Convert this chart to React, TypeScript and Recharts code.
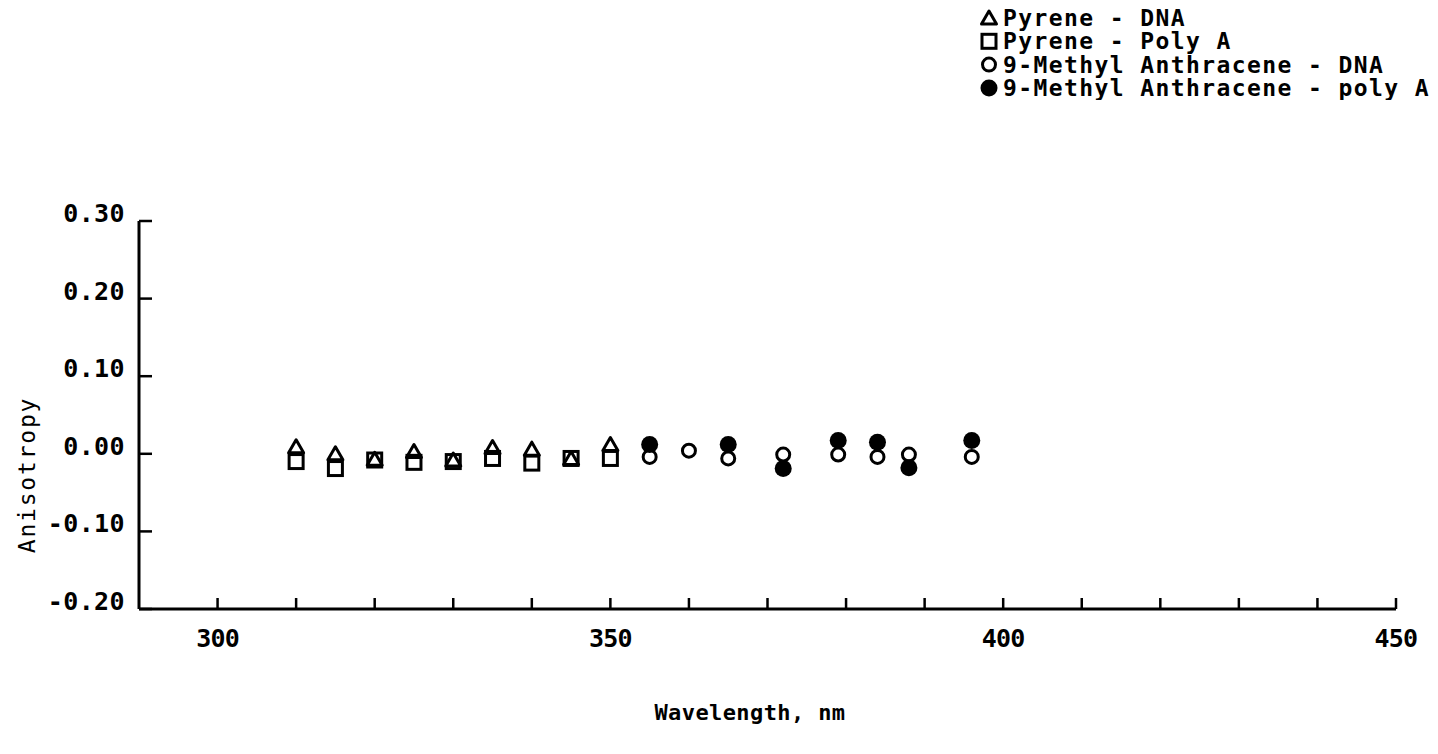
import { Label, Legend, Scatter, ScatterChart, XAxis, YAxis } from "recharts";

// Fluorescence anisotropy vs excitation wavelength
const pyreneWavelengths = [310, 315, 320, 325, 330, 335, 340, 345, 350];
const pyreneDna = [0.009, 0.0, -0.007, 0.003, -0.008, 0.008, 0.006, -0.006, 0.012];
const pyrenePolyA = [-0.01, -0.019, -0.008, -0.011, -0.01, -0.006, -0.012, -0.006, -0.006];

const anthraceneDnaWavelengths = [355, 360, 365, 372, 379, 384, 388, 396];
const anthraceneDna = [-0.004, 0.004, -0.006, -0.001, -0.001, -0.004, -0.001, -0.004];

const anthracenePolyAWavelengths = [355, 365, 372, 379, 384, 388, 396];
const anthracenePolyA = [0.012, 0.012, -0.019, 0.017, 0.015, -0.018, 0.017];

const xTicks = [300, 310, 320, 330, 340, 350, 360, 370, 380, 390, 400, 410, 420, 430, 440, 450];
const xLabelled = [300, 350, 400, 450];
const yTicks = [-0.2, -0.1, 0, 0.1, 0.2, 0.3];

const legendLabels = [
  "Pyrene - DNA",
  "Pyrene - Poly A",
  "9-Methyl Anthracene - DNA",
  "9-Methyl Anthracene - poly A",
];

const toPoints = (xs: number[], ys: number[]) => xs.map((x, i) => ({ x, y: ys[i] }));

const FONT = "'DejaVu Sans Mono', monospace";
const INK = "#000";

const Triangle = ({ cx, cy }: any) => (
  <path
    d={`M${cx},${cy - 7} L${cx + 7.5},${cy + 6} L${cx - 7.5},${cy + 6} Z`}
    fill="none"
    stroke={INK}
    strokeWidth={3}
    strokeLinejoin="round"
  />
);

const Square = ({ cx, cy }: any) => (
  <rect x={cx - 7} y={cy - 7} width={14} height={14} fill="none" stroke={INK} strokeWidth={3} />
);

const OpenCircle = ({ cx, cy }: any) => (
  <circle cx={cx} cy={cy} r={6.5} fill="#fff" stroke={INK} strokeWidth={3} />
);

const FilledCircle = ({ cx, cy }: any) => <circle cx={cx} cy={cy} r={8.5} fill={INK} />;

const markers = [Triangle, Square, OpenCircle, FilledCircle];

const XTick = ({ x, y, payload }: any) => {
  const v = payload.value;
  return (
    <g>
      <line x1={x} x2={x} y1={y} y2={y - 11} stroke={INK} strokeWidth={2.5} />
      {xLabelled.includes(v) && (
        <text
          x={x}
          y={y + 38}
          textAnchor="middle"
          fontFamily={FONT}
          fontWeight="bold"
          fontSize={25}
          letterSpacing={-0.8}
          fill={INK}
        >
          {v}
        </text>
      )}
    </g>
  );
};

const YTick = ({ x, y, payload }: any) => (
  <g>
    <line x1={x} x2={x + 13} y1={y} y2={y} stroke={INK} strokeWidth={2.5} />
    <text
      x={x - 14}
      y={y + 1}
      textAnchor="end"
      fontFamily={FONT}
      fontWeight="bold"
      fontSize={25}
      letterSpacing={0.4}
      fill={INK}
    >
      {payload.value.toFixed(2)}
    </text>
  </g>
);

const renderLegend = () => (
  <svg width={460} height={100}>
    {legendLabels.map((label, i) => {
      const Marker = markers[i];
      const cy = 18 + i * 23.3;
      return (
        <g key={label}>
          <Marker cx={14} cy={cy} />
          <text
            x={28}
            y={cy + 8}
            fontFamily={FONT}
            fontWeight="bold"
            fontSize={23}
            letterSpacing={1.4}
            fill={INK}
          >
            {label}
          </text>
        </g>
      );
    })}
  </svg>
);

export default function App() {
  return (
    <div style={{ position: "absolute", left: 0, top: 0, width: 1438, height: 754, background: "#fff" }}>
      <ScatterChart width={1438} height={754} margin={{ top: 221, right: 42, bottom: 0, left: 0 }}>
        <XAxis
          type="number"
          dataKey="x"
          domain={[290, 450]}
          ticks={xTicks}
          allowDataOverflow
          height={145}
          tickSize={0}
          tickMargin={0}
          tick={<XTick />}
          tickLine={false}
          axisLine={{ stroke: INK, strokeWidth: 3 }}
        >
          <Label
            content={() => (
              <text
                x={750}
                y={720}
                textAnchor="middle"
                fontFamily={FONT}
                fontWeight="bold"
                fontSize={22}
                letterSpacing={0.4}
                fill={INK}
              >
                Wavelength, nm
              </text>
            )}
          />
        </XAxis>
        <YAxis
          type="number"
          dataKey="y"
          domain={[-0.2, 0.3]}
          ticks={yTicks}
          allowDataOverflow
          width={139}
          tickSize={0}
          tickMargin={0}
          tick={<YTick />}
          tickLine={false}
          axisLine={{ stroke: INK, strokeWidth: 3 }}
        >
          <Label
            content={() => (
              <text
                x={35}
                y={475}
                transform="rotate(-90 35 475)"
                textAnchor="middle"
                fontFamily={FONT}
                fontSize={23}
                letterSpacing={1.8}
                fill={INK}
              >
                Anisotropy
              </text>
            )}
          />
        </YAxis>
        <Legend
          content={renderLegend}
          layout="vertical"
          align="center"
          verticalAlign="middle"
          wrapperStyle={{ position: "absolute", left: 975, top: 0, width: 460 }}
        />
        <Scatter
          name="Pyrene - Poly A"
          data={toPoints(pyreneWavelengths, pyrenePolyA)}
          shape={Square}
          isAnimationActive={false}
        />
        <Scatter
          name="Pyrene - DNA"
          data={toPoints(pyreneWavelengths, pyreneDna)}
          shape={Triangle}
          isAnimationActive={false}
        />
        <Scatter
          name="9-Methyl Anthracene - DNA"
          data={toPoints(anthraceneDnaWavelengths, anthraceneDna)}
          shape={OpenCircle}
          isAnimationActive={false}
        />
        <Scatter
          name="9-Methyl Anthracene - poly A"
          data={toPoints(anthracenePolyAWavelengths, anthracenePolyA)}
          shape={FilledCircle}
          isAnimationActive={false}
        />
      </ScatterChart>
    </div>
  );
}
